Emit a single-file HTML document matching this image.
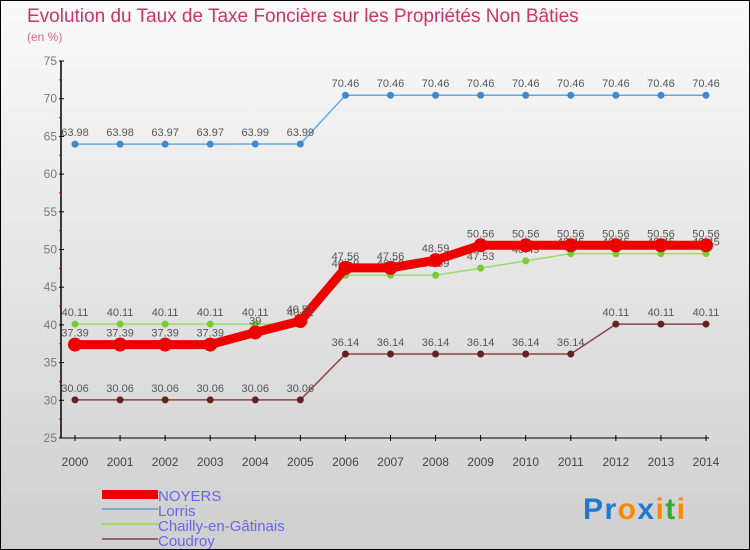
<!DOCTYPE html>
<html><head><meta charset="utf-8"><style>
body{margin:0}
#c{width:748px;height:548px;border:1px solid #000;background:linear-gradient(#fafafa,#cfcfcf);position:relative;font-family:"Liberation Sans",sans-serif;overflow:hidden}
</style></head><body>
<div id="c">
<svg id="s" width="748" height="548" xmlns="http://www.w3.org/2000/svg">
<text x="26" y="21" font-size="19" fill="#cc3366">Evolution du Taux de Taxe Foncière sur les Propriétés Non Bâties</text>
<text x="26" y="40" font-size="12" fill="#dd6688">(en %)</text>
<g id="g"></g>
<g>
<rect x="101" y="489" width="56" height="9" fill="#ee0000"/>
<text x="157" y="500" font-size="15" fill="#6666ee">NOYERS</text>
<rect x="101" y="507" width="56" height="2" fill="#77aacc"/>
<text x="157" y="515" font-size="15" fill="#6666ee">Lorris</text>
<rect x="101" y="522" width="56" height="2" fill="#99dd66"/>
<text x="157" y="530" font-size="15" fill="#6666ee">Chailly-en-Gâtinais</text>
<rect x="101" y="537" width="56" height="2" fill="#996666"/>
<text x="157" y="545" font-size="15" fill="#6666ee">Coudroy</text>
</g>
<text x="582" y="518" font-size="30" font-weight="bold" textLength="102"><tspan fill="#2277cc">Pr</tspan><tspan fill="#ff8800">o</tspan><tspan fill="#2277cc">x</tspan><tspan fill="#ff8800">i</tspan><tspan fill="#33aa33">t</tspan><tspan fill="#ff8800">i</tspan></text>
</svg></div>
<script>
const years=[2000,2001,2002,2003,2004,2005,2006,2007,2008,2009,2010,2011,2012,2013,2014];
const yTicks=[25,30,35,40,45,50,55,60,65,70,75];
const noyers=[37.39,37.39,37.39,37.39,39,40.51,47.56,47.56,48.59,50.56,50.56,50.56,50.56,50.56,50.56];
const lorris=[63.98,63.98,63.97,63.97,63.99,63.99,70.46,70.46,70.46,70.46,70.46,70.46,70.46,70.46,70.46];
const chailly=[40.11,40.11,40.11,40.11,40.11,40.11,46.59,46.59,46.59,47.53,48.49,49.45,49.45,49.45,49.45];
const coudroy=[30.06,30.06,30.06,30.06,30.06,30.06,36.14,36.14,36.14,36.14,36.14,36.14,40.11,40.11,40.11];
const NS="http://www.w3.org/2000/svg",g=document.getElementById('g');
const X=i=>74+i*(631/14), Y=v=>437-(v-25)*(377/50);
function el(t,a,p){const e=document.createElementNS(NS,t);for(const k in a)e.setAttribute(k,a[k]);(p||g).appendChild(e);return e;}
let e;
e=el('line',{x1:60,y1:Y(75),x2:60,y2:437,stroke:'#000','stroke-width':1.5});


e=el('line',{x1:60,y1:437,x2:708,y2:437,stroke:'#000'});


yTicks.forEach((v,k)=>{
 e=el('line',{x1:58,y1:Y(v),x2:63,y2:Y(v),stroke:'#000'});
 
 
 if(k<yTicks.length-1){
  e=el('line',{x1:58,y1:Y(v+2.5),x2:60,y2:Y(v+2.5),stroke:'#dd0000'});
  
  
 }
 e=el('text',{x:56,y:Y(v)+4,'font-size':12,fill:'#777','text-anchor':'end'});e.textContent=v;
 
 
});
years.forEach((yr,i)=>{
 e=el('line',{x1:X(i),y1:434,x2:X(i),y2:440,stroke:'#000'});
 
 
 e=el('text',{x:X(i),y:465,'font-size':12,fill:'#444','text-anchor':'middle'});e.textContent=yr;
 
 
});
function series(d,name,col,w,r,ptcol){
 const gr=el('g',{});
 
 
 e=el('polyline',{points:d.map((v,i)=>X(i)+','+Y(v)).join(' '),fill:'none',stroke:col,'stroke-width':w,'stroke-linejoin':'round'},gr);
 
 
 d.forEach((v,i)=>{
  e=el('circle',{cx:X(i),cy:Y(v),r:r,fill:ptcol},gr);
  
  
  e=el('text',{x:X(i),y:Y(v)-8,'font-size':11,fill:'#555','text-anchor':'middle'},gr);e.textContent=v;
  
  
 });
}
series(coudroy,'coudroy','#884444',1.5,3.5,'#662222');
series(lorris,'lorris','#66aadd',1.5,3.5,'#4488cc');
series(chailly,'chailly','#99dd66',1.5,3.5,'#77cc33');
series(noyers,'noyers','#ee0000',9,7,'#ee0000');
</script>
</body></html>
